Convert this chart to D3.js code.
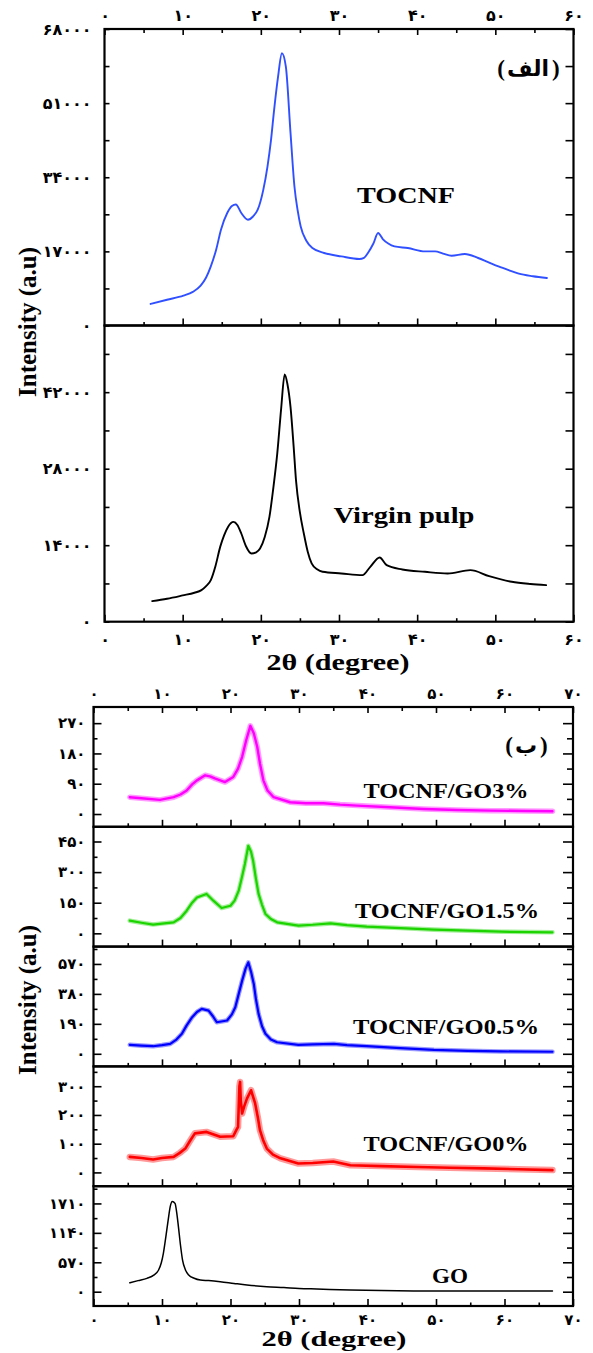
<!DOCTYPE html>
<html><head><meta charset="utf-8">
<script src="https://cdn.jsdelivr.net/npm/d3@7/dist/d3.min.js"></script>
<style>body{margin:0;background:#fff}svg{display:block}</style>
</head><body>
<svg id="c" width="593" height="1353"></svg>
<script>
// ---------- DATA (2θ in degrees, intensity) ----------
const tocnf = [[5.9,4950],[8,5900],[10.1,6850],[11.3,7700],[12.3,9140],[13.0,11000],[13.6,13560],[14.3,17500],[14.9,21970],[15.7,25790],[16.3,27400],[16.8,27760],[17.5,25800],[18.35,24260],[19.0,25000],[19.6,26550],[20.3,31000],[20.85,36460],[21.3,42500],[21.7,49450],[22.2,57000],[22.7,62440],[23.2,59370],[23.8,44110],[24.3,31880],[24.7,26500],[25.1,22720],[25.8,19500],[26.6,17770],[28.1,16630],[30.3,15850],[32.6,15250],[33.2,15500],[33.7,16630],[34.4,18800],[35.0,21210],[35.6,19830],[36.3,18800],[37.1,18140],[38.8,17770],[41.0,16990],[42.3,16990],[43.3,16500],[44.4,16010],[46.1,16400],[47.8,15480],[49.0,14600],[50.4,13560],[51.7,12700],[53.0,11890],[54.8,11300],[56.6,10900]];
const virginPulp = [[6.1,3770],[8,4200],[10.0,4810],[11.5,5300],[12.4,5780],[13.0,6500],[13.6,7610],[14.2,10200],[14.8,13690],[15.3,15800],[15.8,17340],[16.5,18260],[17.0,17700],[17.5,16140],[18.1,13800],[18.8,12480],[19.4,12700],[19.9,13400],[20.5,15500],[21.1,19170],[21.6,24500],[22.1,30750],[22.6,39000],[23.05,45230],[23.4,43500],[23.8,39260],[24.2,32000],[24.5,25870],[25.0,20000],[25.5,16140],[26.0,12800],[26.5,10660],[27.2,9600],[27.9,9130],[30.3,8830],[33.0,8520],[34.0,10040],[35.2,11750],[36.1,10350],[38.1,9560],[41.0,9130],[43.9,8830],[46.8,9430],[49.2,8340],[52.1,7300],[54.5,6900],[56.5,6690]];
const go3 = [[5.3,50],[7,47],[9.7,42],[11.7,50],[12.7,58],[13.6,70],[14.4,88],[15.1,100],[16.3,115],[17.0,112],[17.8,105],[19.2,95],[20.4,110],[21.1,135],[21.7,170],[22.3,220],[22.9,262],[23.4,240],[23.9,200],[24.3,150],[24.8,100],[25.4,70],[26.3,50],[28.7,35],[31,32],[33.6,32],[36,28],[38.5,25],[43.3,20],[48.2,15],[53.1,12],[58.0,10],[63,9],[67.0,8]];
const go15 = [[5.3,62],[7,52],[8.7,43],[10,48],[11.7,54],[12.7,75],[13.6,111],[14.4,150],[15.1,176],[16.5,193],[17.5,160],[18.7,124],[20.0,135],[20.6,160],[21.2,209],[21.7,280],[22.1,340],[22.6,429],[23.0,400],[23.3,356],[23.7,270],[24.1,193],[24.6,140],[25.1,95],[25.9,70],[26.8,54],[29.9,38],[32,42],[34.6,49],[37,40],[39.9,33],[44.8,26],[49.7,18],[54.6,13],[59.5,8],[67.0,5]];
const go05 = [[5.3,57],[7,52],[8.7,48],[10,55],[11.2,63],[12.1,90],[12.9,127],[13.6,180],[14.4,232],[15.1,265],[15.8,285],[16.8,274],[17.4,240],[18.0,200],[19.5,211],[20.2,250],[20.7,295],[21.2,380],[21.7,464],[22.2,540],[22.6,580],[23.0,520],[23.4,443],[23.7,350],[24.1,253],[24.6,175],[25.1,127],[25.9,90],[26.8,73],[29.9,57],[32,60],[35.1,63],[37,55],[39.9,48],[44.8,36],[49.7,25],[54.6,19],[59.5,15],[67.0,13]];
const go0 = [[5.3,54],[7,50],[8.7,45],[10,50],[11.7,54],[12.6,68],[13.4,83],[14.1,110],[14.8,136],[16.5,141],[18.5,124],[20.4,126],[20.9,150],[21.1,158],[21.3,300],[21.4,315],[21.5,250],[21.7,205],[22.0,230],[22.4,257],[23.0,286],[23.6,240],[24.0,190],[24.3,147],[24.8,110],[25.3,83],[26.2,62],[27.3,49],[29.9,31],[32,33],[35,38],[37.5,25],[42,22],[47.3,19],[52,16],[57.0,14],[62,11],[67.0,8]];
const goOnly = [[5.3,174],[6.5,215],[7.8,259],[8.8,320],[9.5,420],[9.9,560],[10.2,743],[10.6,1100],[10.9,1387],[11.2,1650],[11.5,1750],[11.9,1710],[12.2,1480],[12.4,1257],[12.7,900],[13.0,613],[13.4,430],[13.9,323],[14.7,260],[15.6,226],[16.8,215],[18.5,193],[20.5,160],[22.4,130],[25.3,97],[27.8,80],[30,62],[32.6,52],[37.5,33],[42,22],[47.3,14],[52,13],[57.0,14],[62,13],[67.0,13]];

// tick values
const topXTicks = [0,10,20,30,40,50,60];
const botXTicks = [0,10,20,30,40,50,60,70];
const tocnfTicks = [0,17000,34000,51000,68000];
const pulpTicks = [0,14000,28000,42000];
const go3Ticks = [0,90,180,270];
const go15Ticks = [0,150,300,450];
const go05Ticks = [0,190,380,570];
const go0Ticks = [0,100,200,300];
const goTicks = [0,570,1140,1710];

// labels
const sampleLabels = ["TOCNF","Virgin pulp","TOCNF/GO3%","TOCNF/GO1.5%","TOCNF/GO0.5%","TOCNF/GO0%","GO"];
const partLabels = ["الف","ب"];
const xTitle = "2θ (degree)";
const yTitle = "Intensity (a.u)";

// ---------- DRAWING ----------
const faDigits = '۰۱۲۳۴۵۶۷۸۹';
const fa = n => String(n).replace(/\d/g, d => faDigits[+d]);
const SERIF = '"Liberation Serif","Times New Roman",serif';
const ARAB = '"DejaVu Sans",sans-serif';
const svg = d3.select('#c');

function styleAxis(sel, fs) {
  sel.select('.domain').remove();
  sel.selectAll('line').attr('stroke', '#000').attr('stroke-width', 1.6);
  sel.selectAll('text').attr('font-family', ARAB).attr('font-weight', 'bold')
     .attr('font-size', fs).attr('fill', '#000');
}

function drawPanel(p) {
  const x = p.x;
  const y = d3.scaleLinear(p.yDomain, [p.bottom, p.top]);
  const g = svg.append('g');
  const lineGen = d3.line().x(d => x(d[0])).y(d => y(d[1])).curve(p.curve);
  if (p.band) {
    g.append('path').datum(p.data)
      .attr('fill', 'none').attr('stroke', p.color).attr('stroke-width', p.band).attr('stroke-opacity', 0.4)
      .attr('stroke-linejoin', 'round').attr('stroke-linecap', 'round').attr('d', lineGen);
  }
  g.append('path').datum(p.data)
    .attr('fill', 'none').attr('stroke', p.color).attr('stroke-width', p.sw)
    .attr('stroke-linejoin', 'round').attr('stroke-linecap', 'round').attr('d', lineGen);

  const inside = v => y(v) <= p.bottom + 0.5 && y(v) >= p.top - 0.5;
  const minors = d3.range(0, p.yDomain[1], p.yMinor).filter(v => inside(v) && y(v) > p.top + 2 && !p.yMajor.includes(v));
  const majors = p.yMajor.filter(inside);
  const [x0, x1] = x.range();

  g.append('g').attr('transform', `translate(${x0},0)`)
    .call(d3.axisLeft(y).tickValues(majors).tickSize(-p.lMaj).tickSizeOuter(0).tickPadding(p.pad).tickFormat(fa))
    .call(s => styleAxis(s, p.fs));
  g.append('g').attr('transform', `translate(${x0},0)`)
    .call(d3.axisLeft(y).tickValues(minors).tickSize(-p.lMin).tickSizeOuter(0).tickFormat(''))
    .call(s => styleAxis(s, p.fs));
  g.append('g').attr('transform', `translate(${x1},0)`)
    .call(d3.axisRight(y).tickValues(majors).tickSize(-p.rMaj).tickSizeOuter(0).tickFormat(''))
    .call(s => styleAxis(s, p.fs));
  g.append('g').attr('transform', `translate(${x1},0)`)
    .call(d3.axisRight(y).tickValues(minors).tickSize(-p.rMin).tickSizeOuter(0).tickFormat(''))
    .call(s => styleAxis(s, p.fs));

  const xMaj = p.xTicks.filter(v => v > x.domain()[0] && v < x.domain()[1]);
  const xMin = xMaj.map(v => v - 5).filter(v => v > x.domain()[0]).concat([x.domain()[1] - 5]);
  g.append('g').attr('transform', `translate(0,${p.bottom})`)
    .call(d3.axisBottom(x).tickValues(p.bottomLabels ? p.xTicks : xMaj).tickSize(-7).tickSizeOuter(0)
      .tickPadding(p.xPadB).tickFormat(p.bottomLabels ? fa : ''))
    .call(s => styleAxis(s, p.fs));
  g.append('g').attr('transform', `translate(0,${p.bottom})`)
    .call(d3.axisBottom(x).tickValues(xMin).tickSize(-3.5).tickSizeOuter(0).tickFormat(''))
    .call(s => styleAxis(s, p.fs));
  if (p.topAxis) {
    g.append('g').attr('transform', `translate(0,${p.top})`)
      .call(d3.axisTop(x).tickValues(p.xTicks).tickSize(-6).tickSizeOuter(0).tickPadding(p.xPadT).tickFormat(fa))
      .call(s => styleAxis(s, p.fs));
    g.append('g').attr('transform', `translate(0,${p.top})`)
      .call(d3.axisTop(x).tickValues(xMin).tickSize(-4).tickSizeOuter(0).tickFormat(''))
      .call(s => styleAxis(s, p.fs));
  }
  g.append('rect').attr('x', x0).attr('y', p.top).attr('width', x1 - x0).attr('height', p.bottom - p.top)
    .attr('fill', 'none').attr('stroke', '#000').attr('stroke-width', 2.2);
  return y;
}

// ----- part (الف) -----
const xTop = d3.scaleLinear([0, 60], [104.5, 573.5]);
const topCommon = {x: xTop, xTicks: topXTicks, lMaj: 5, lMin: 5, rMaj: 8, rMin: 8, pad: 13, fs: 16, xPadB: 12, xPadT: 8};
drawPanel(Object.assign({}, topCommon, {top: 29, bottom: 325.5, yDomain: [0, 68000], yMajor: tocnfTicks, yMinor: 8500,
  data: tocnf, color: '#3050ff', sw: 1.9, curve: d3.curveMonotoneX, topAxis: true, bottomLabels: false}));
drawPanel(Object.assign({}, topCommon, {top: 325.5, bottom: 621.7, yDomain: [0, 54200], yMajor: pulpTicks, yMinor: 7000,
  data: virginPulp, color: '#000', sw: 1.9, curve: d3.curveMonotoneX, topAxis: false, bottomLabels: true}));

// ----- part (ب) -----
const xBot = d3.scaleLinear([0, 70], [93.5, 573]);
const pH = 119.8, pTop = 707;
const botPanels = [
  {yDomain: [-38, 318], yMajor: go3Ticks, yMinor: 45, data: go3, color: '#ff00ff', sw: 2.4, band: 5.5},
  {yDomain: [-65, 522], yMajor: go15Ticks, yMinor: 75, data: go15, color: '#1bd400', sw: 2.2, band: 4.6},
  {yDomain: [-80, 680], yMajor: go05Ticks, yMinor: 95, data: go05, color: '#0000ff', sw: 2.2, band: 4.6},
  {yDomain: [-48, 369], yMajor: go0Ticks, yMinor: 50, data: go0, color: '#ff0000', sw: 2.6, band: 6.5},
  {yDomain: [-277, 2044], yMajor: goTicks, yMinor: 285, data: goOnly, color: '#000', sw: 1.5, band: 0}
];
botPanels.forEach((bp, i) => {
  drawPanel(Object.assign({x: xBot, xTicks: botXTicks, lMaj: 8, lMin: 4, rMaj: 10, rMin: 6, pad: 8, fs: 15, xPadB: 8, xPadT: 8,
    top: pTop + i * pH, bottom: pTop + (i + 1) * pH, curve: i === 4 ? d3.curveMonotoneX : d3.curveLinear,
    topAxis: i === 0, bottomLabels: i === 4}, bp));
});

// ----- texts -----
function label(txt, cx, base, fs, w, fam, anchor) {
  const t = svg.append('text').attr('x', cx).attr('y', base).attr('text-anchor', anchor || 'middle')
    .attr('font-family', fam || SERIF).attr('font-weight', 'bold').attr('font-size', fs).attr('fill', '#000').text(txt);
  if (w) t.attr('textLength', w).attr('lengthAdjust', 'spacingAndGlyphs');
  return t;
}
label(sampleLabels[0], 406, 203, 24, 98);
label(sampleLabels[1], 404, 523, 24, 141);
label(sampleLabels[2], 446, 798, 21, 165);
label(sampleLabels[3], 447, 918, 21, 184);
label(sampleLabels[4], 446, 1034, 21, 186);
label(sampleLabels[5], 446, 1151, 21, 165);
label(sampleLabels[6], 450, 1283, 20, 36);

// part labels: Arabic word with parentheses placed on both sides of its box
function partLabel(word, cx, base) {
  const w = label(word, cx, base, 22, null, ARAB);
  const bb = w.node().getBBox();
  label('(', bb.x - 2, base, 23, null, SERIF, 'end');
  label(')', bb.x + bb.width + 3, base, 23, null, SERIF, 'start');
}
partLabel(partLabels[0], 528, 76);
partLabel(partLabels[1], 526, 753);

label(xTitle, 338, 670, 24, 143);
label(xTitle, 334, 1346, 22, 145);
[322, 1000].forEach(cy => {
  svg.append('text').attr('transform', `translate(36,${cy}) rotate(-90)`).attr('text-anchor', 'middle')
    .attr('font-family', SERIF).attr('font-weight', 'bold').attr('font-size', 25).attr('fill', '#000').text(yTitle);
});
</script>
</body></html>
